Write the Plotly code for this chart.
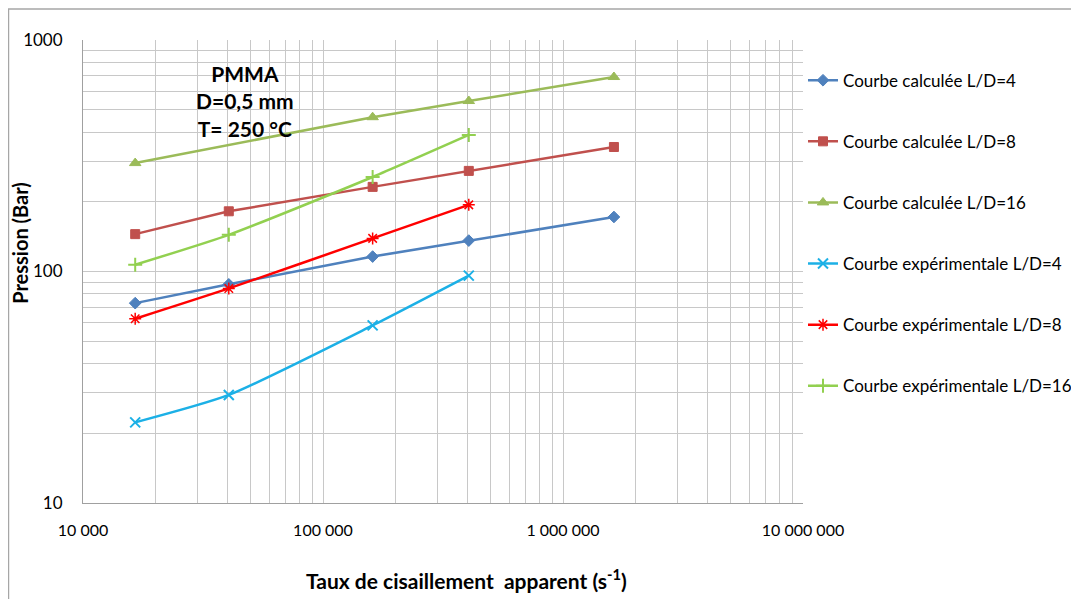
import plotly.graph_objects as go

# Shear rates (s^-1)
shear_calc = [16500, 40500, 161000, 405000, 1630000]
shear_calc16 = [16500, 161000, 405000, 1630000]
shear_exp = [16500, 40500, 161000, 405000]

# Pressures (bar)
calc_ld4 = [73, 88, 116, 136, 172]
calc_ld8 = [145, 182, 232, 272, 345]
calc_ld16 = [294, 464, 545, 692]
exp_ld4 = [22.3, 29.3, 58.5, 96]
exp_ld8 = [62.5, 84.5, 139, 194]
exp_ld16 = [107, 144, 256, 389]

names = [
    "Courbe calculée L/D=4",
    "Courbe calculée L/D=8",
    "Courbe calculée L/D=16",
    "Courbe expérimentale L/D=4",
    "Courbe expérimentale L/D=8",
    "Courbe expérimentale L/D=16",
]

x_tickvals = [1e4, 1e5, 1e6, 1e7]
x_ticktext = ["10 000", "100 000", "1 000 000", "10 000 000"]
y_tickvals = [10, 100, 1000]
y_ticktext = ["10", "100", "1000"]

FONT = "Lato, 'Open Sans', sans-serif"

series = [
    (shear_calc, calc_ld4, "#4F81BD", "diamond", 9, "linear", 1),
    (shear_calc, calc_ld8, "#C0504D", "square", 9, "linear", 1),
    (shear_calc16, calc_ld16, "#9BBB59", "triangle-up", 10, "linear", 1),
    (shear_exp, exp_ld4, "#1CB0E6", "x-thin", 10, "spline", 2),
    (shear_exp, exp_ld8, "#FF0000", "asterisk", 10, "spline", 1.5),
    (shear_exp, exp_ld16, "#92D050", "cross-thin", 10, "spline", 2),
]

fig = go.Figure()
for i, (xs, ys, col, sym, sz, shape, mlw) in enumerate(series):
    fig.add_trace(go.Scatter(
        x=xs, y=ys, name=names[i], mode="lines+markers",
        legendgroup=f"g{i}",
        line=dict(color=col, width=2.5, shape=shape, smoothing=0.6),
        marker=dict(symbol=sym, size=sz, color=col,
                    line=dict(color=col, width=mlw)),
    ))

grid_col = "#C8C8C8"
fig.update_xaxes(
    type="log", range=[4, 7], tickmode="array",
    tickvals=x_tickvals, ticktext=x_ticktext,
    showgrid=True, gridcolor=grid_col, gridwidth=1,
    minor=dict(dtick="D1", showgrid=True, gridcolor=grid_col, gridwidth=1, ticks=""),
    showline=True, linecolor="#A0A0A0", linewidth=1, mirror=False,
    ticks="", ticklabelstandoff=13, automargin=False,
    tickfont=dict(family=FONT, size=16, color="#000"),
    zeroline=False,
)
fig.update_yaxes(
    type="log", range=[1, 3], tickmode="array",
    tickvals=y_tickvals, ticktext=y_ticktext,
    showgrid=True, gridcolor=grid_col, gridwidth=1,
    minor=dict(dtick="D1", showgrid=True, gridcolor=grid_col, gridwidth=1, ticks=""),
    showline=True, linecolor="#A0A0A0", linewidth=1,
    ticks="", ticklabelstandoff=16, automargin=False,
    tickfont=dict(family=FONT, size=17, color="#000"),
    zeroline=False,
)

# Axis titles (as annotations for precise placement)
fig.add_annotation(
    x=0.532, y=-0.165, xref="paper", yref="paper",
    text="<b>Taux de cisaillement  apparent (s<sup>-1</sup>)</b>",
    showarrow=False, xanchor="center", yanchor="middle",
    font=dict(family=FONT, size=21, color="#000"),
)
fig.add_annotation(
    x=-0.0875, y=0.562, xref="paper", yref="paper",
    text="<b>Pression (Bar)</b>", textangle=-90,
    showarrow=False, xanchor="center", yanchor="middle",
    font=dict(family=FONT, size=20, color="#000"),
)

fig.add_annotation(
    x=0.225, y=0.868, xref="paper", yref="paper",
    text="<b>PMMA<br>D=0,5 mm<br>T= 250 °C</b>",
    showarrow=False, align="center", xanchor="center", yanchor="middle",
    font=dict(family=FONT, size=21, color="#000"),
)

fig.add_shape(type="rect", xref="paper", yref="paper",
              x0=-0.1035, x1=1.3778, y0=-0.25, y1=1.067,
              line=dict(color="#A6A6A6", width=1.5), fillcolor="rgba(0,0,0,0)")

# The page adds an 8 px body margin; the figure is sized to compensate.
fig.update_layout(
    width=1071, height=591,
    margin=dict(l=75, r=276, t=32, b=96, autoexpand=False),
    paper_bgcolor="white", plot_bgcolor="white",
    showlegend=True,
    legend=dict(x=1.0, y=0.951, xanchor="left", yanchor="top",
                font=dict(family=FONT, size=17, color="#000"),
                tracegroupgap=36, itemwidth=30,
                bgcolor="rgba(0,0,0,0)"),
)

fig.write_html("out.html")
